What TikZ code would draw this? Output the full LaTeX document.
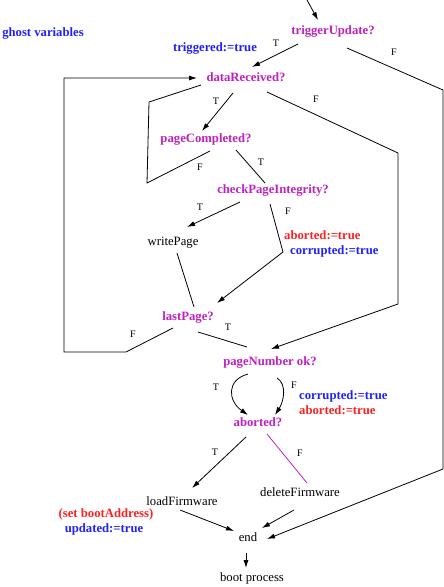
\documentclass[tikz,border=0pt]{standalone}
\usepackage{fontspec}
\setmainfont{Liberation Serif}
\usepackage{tikz}
\usetikzlibrary{arrows.meta,positioning}
\definecolor{condcol}{RGB}{192,32,192}
\definecolor{ghostcol}{RGB}{32,32,255}
\definecolor{abortcol}{RGB}{255,32,32}
\tikzstyle{base} = [inner sep=1pt, text height=8.7pt, text depth=2.8pt, font=\fontsize{12.7}{15}\selectfont]
\tikzstyle{cond} = [base, text=condcol, font=\bfseries\fontsize{12.7}{15}\selectfont]
\tikzstyle{act} = [base]
\tikzstyle{ghost} = [base, text=ghostcol, font=\bfseries\fontsize{12.7}{15}\selectfont]
\tikzstyle{abort} = [base, text=abortcol, font=\bfseries\fontsize{12.7}{15}\selectfont]
\tikzstyle{tf} = [inner sep=0pt, font=\fontsize{10}{12}\selectfont]
\tikzstyle{line} = [draw, line width=0.8pt]
\tikzstyle{arr} = [line, -{Latex[length=8pt,width=5pt]}]

\begin{document}
\begin{tikzpicture}[x=1pt, y=-1pt]
    \useasboundingbox (0,0) rectangle (444,587);
    % Blocks
    \node [ghost] (ghost) at (43,34) {ghost variables};
    \coordinate (in) at (307,0);
    \node [cond] (trig) at (333,32) {triggerUpdate?};
    \node [ghost] (trigd) at (215,49) {triggered:=true};
    \node [cond] (data) at (246,79) {dataReceived?};
    \node [cond] (pc) at (206,140) {pageCompleted?};
    \node [cond] (cpi) at (273,191) {checkPageIntegrity?};
    \node [act] (write) at (173,243) {writePage};
    \node [abort, anchor=west] (cabt) at (283,237) {aborted:=true};
    \node [ghost, anchor=west] (ccor) at (289,252) {corrupted:=true};
    \node [cond] (last) at (188,318) {lastPage?};
    \node [cond] (pnum) at (270,363) {pageNumber ok?};
    \node [ghost, anchor=west] (pcor) at (298,397) {corrupted:=true};
    \node [abort, anchor=west] (pabt) at (298,412) {aborted:=true};
    \node [cond] (abt) at (258,424) {aborted?};
    \node [act] (load) at (182,503) {loadFirmware};
    \node [act] (del) at (300,494) {deleteFirmware};
    \node [abort] (boota) at (106,515) {(set bootAddress)};
    \node [ghost] (upd) at (104,530) {updated:=true};
    \node [act] (end) at (248,539) {end};
    \node [act] (boot) at (252,579) {boot process};
    % Lines
    \path [arr] (in) -- ([shift={(-15,-12)}]trig.center);
    \path [arr] ([shift={(-35,12)}]trig.center) -- ([shift={(6,-12)}]data.center);
    \path [arr] ([shift={(14,16)}]trig.center) -- (443,90) -- (443,469) -- ([shift={(19,0)}]end.center);
    \path [arr] ([shift={(-15,10)}]last.center) -- (126,352) -- (64,352) -- (64,78) -- ([shift={(-49,-1)}]data.center);
    \path [arr] ([shift={(21,13)}]data.center) -- (398,153) -- (398,304) -- ([shift={(1,-14)}]pnum.center);
    \path [arr] ([shift={(-13,14)}]data.center) -- ([shift={(-4,-9)}]pc.center);
    \path [line] ([shift={(4,11)}]pc.center) -- (147,183) -- (149,102) -- ([shift={(-45,6)}]data.center);
    \path [line] ([shift={(30,10)}]pc.center) -- ([shift={(-8,-8)}]cpi.center);
    \path [arr] ([shift={(-33,11)}]cpi.center) -- ([shift={(14,-16)}]write.center);
    \path [line] ([shift={(4,10)}]write.center) -- ([shift={(6,-11)}]last.center);
    \path [arr] ([shift={(-3,13)}]cpi.center) -- (283,252) -- ([shift={(29,-15)}]last.center);
    \path [line] ([shift={(10,14)}]last.center) -- ([shift={(-23,-16)}]pnum.center);
    \path [arr] ([shift={(-22,11)}]pnum.center) .. controls +(-22,6) and +(-20,-14) .. ([shift={(-10,-9)}]abt.center);
    \path [arr] ([shift={(7,15)}]pnum.center) .. controls +(10,6) and +(9,-14) .. ([shift={(17,-9)}]abt.center);
    \path [arr] ([shift={(-12,13)}]abt.center) -- ([shift={(10,-15)}]load.center);
    \path [line, draw=condcol] ([shift={(9,10)}]abt.center) -- ([shift={(7,-11)}]del.center);
    \path [arr] ([shift={(-2,7)}]load.center) -- ([shift={(-14,-8)}]end.center);
    \path [arr] ([shift={(-6,16)}]del.center) -- ([shift={(14,-11)}]end.center);
    \path [arr] ([shift={(-2,14)}]end.center) -- ([shift={(-6,-11)}]boot.center);
    % T/F labels
    \node [tf] at (276,43) {T};
    \node [tf] at (394,52) {F};
    \node [tf] at (216,101) {T};
    \node [tf] at (316,99) {F};
    \node [tf] at (200,167) {F};
    \node [tf] at (261,162) {T};
    \node [tf] at (200,207) {T};
    \node [tf] at (288,211) {F};
    \node [tf] at (133,334) {F};
    \node [tf] at (228,327) {T};
    \node [tf] at (216,387) {T};
    \node [tf] at (294,385) {F};
    \node [tf] at (215,452) {T};
    \node [tf] at (300,453) {F};
\end{tikzpicture}
\end{document}
